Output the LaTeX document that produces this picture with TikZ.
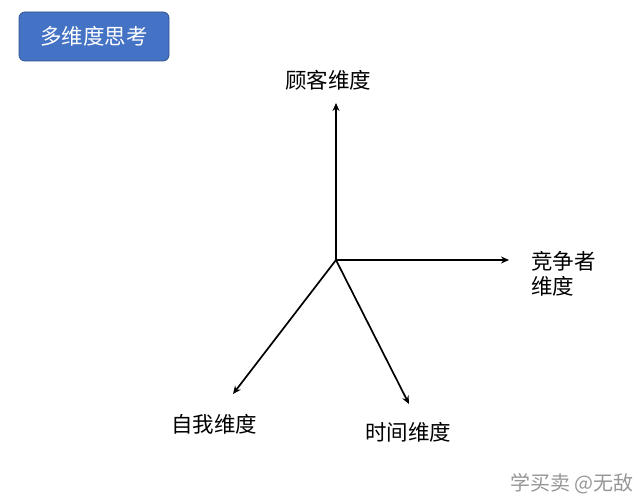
\documentclass[tikz,border=0pt]{standalone}
\usepackage{fontspec}
\setmainfont{Noto Sans CJK SC}
\usetikzlibrary{arrows.meta}
\begin{document}
\begin{tikzpicture}[x=1pt,y=-1pt,
  lbl/.style={font=\fontsize{21.5}{25}\selectfont, inner sep=0pt},
  ax/.style={line width=1.7pt, -{Stealth[length=8pt,width=7pt]}}]
\useasboundingbox (0,0) rectangle (640,500);
\node[draw={rgb,255:red,47;green,82;blue,143}, line width=0.8pt, fill={rgb,255:red,68;green,114;blue,196}, rounded corners=6pt,
  minimum width=150pt, minimum height=49pt, text=white, font=\fontsize{21.5}{25}\selectfont] (title) at (94,36.5) {多维度思考};
\coordinate (o) at (336,260);
\coordinate (up) at (336,103);
\coordinate (rt) at (509,260);
\coordinate (ld) at (233,394);
\coordinate (rd) at (409,404);
\draw[ax] (o) -- (up);
\draw[ax] (o) -- (rt);
\draw[ax] (o) -- (ld);
\draw[ax] (o) -- (rd);
\node[lbl] (gk) at (328,80) {顾客维度};
\node[lbl, align=left, anchor=west] (jz) at (531,274) {竞争者\\维度};
\node[lbl] (zw) at (214,424) {自我维度};
\node[lbl] (sj) at (408,432) {时间维度};
\node[font=\fontsize{20}{22}\selectfont, text={rgb,255:red,150;green,150;blue,150}, inner sep=0pt] (wm) at (572,484) {学买卖 @无敌};
\end{tikzpicture}
\end{document}
